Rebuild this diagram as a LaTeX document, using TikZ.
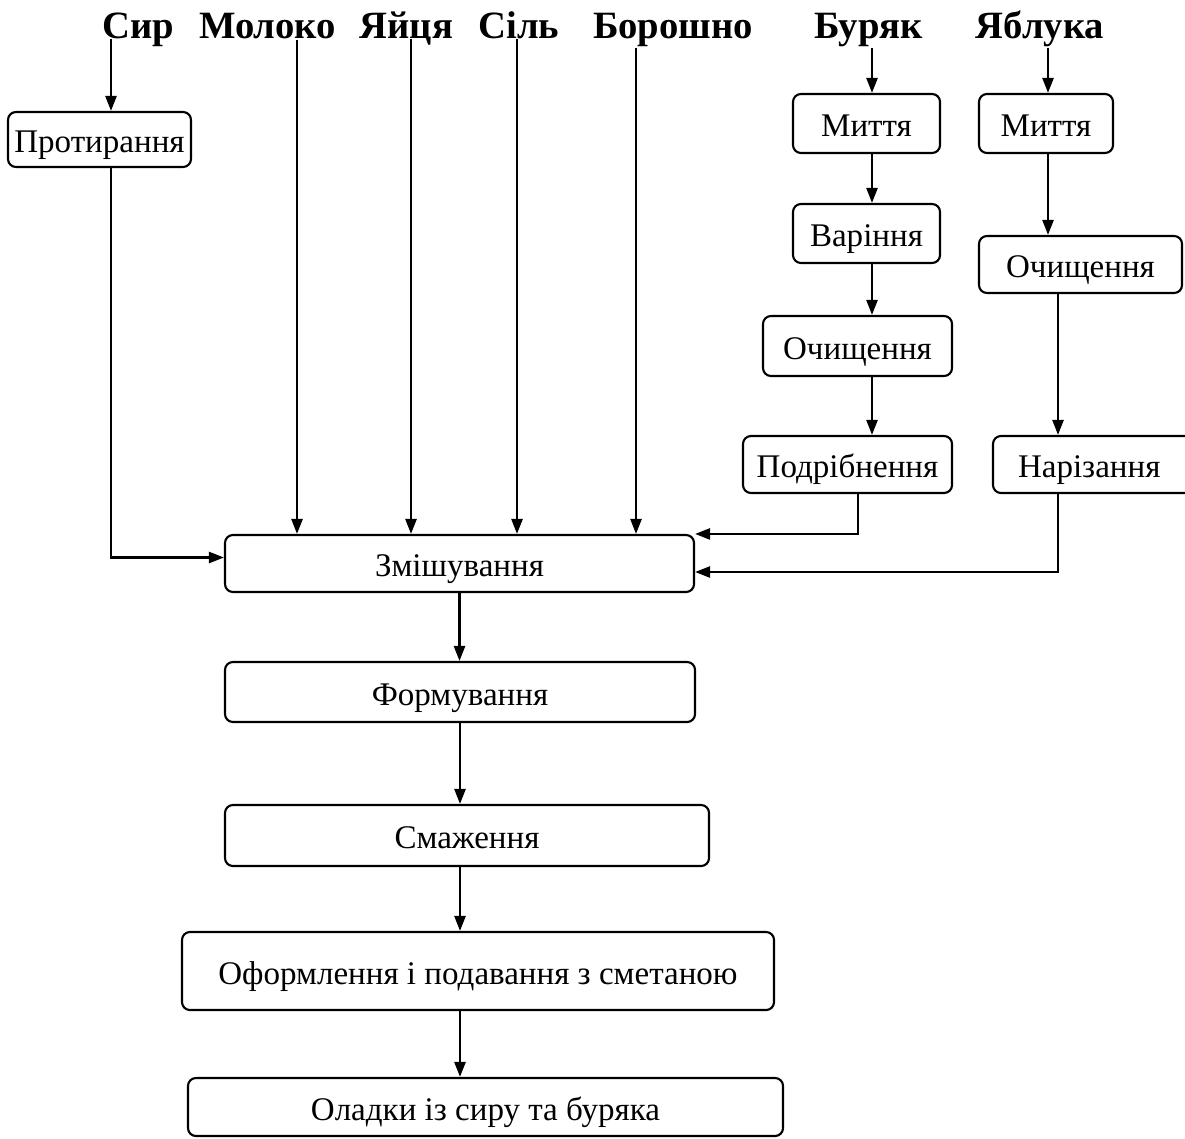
\documentclass[tikz,border=0pt]{standalone}
\usepackage{fontspec}
\setmainfont{Liberation Serif}
\usetikzlibrary{arrows.meta,positioning,calc}
\tikzset{%
stage/.style={draw, line width=1.2pt, rounded corners=4.5pt, inner sep=0pt, text height=15pt, text depth=0pt, font=\fontsize{18.8}{20}\selectfont},
dims/.style 2 args={minimum width=#1*0.02cm, minimum height=#2*0.02cm},
ingr/.style={inner sep=0pt, font=\fontsize{22}{24}\selectfont\bfseries},
pt/.style={line width=1.4pt, -{Triangle[length=0.3cm,width=0.22cm]}}
}
\begin{document}
\begin{tikzpicture}[x=0.02cm, y=-0.02cm]
			\useasboundingbox (0,0) rectangle (1185,1138);
			\node[ingr, anchor=base] (cheese) at (138.5,39) {Сир};
			\node[ingr, anchor=base] (milk) at (267.5,39) {Молоко};
			\node[ingr, anchor=base] (eggs) at (406.5,39) {Яйця};
			\node[ingr, anchor=base] (salt) at (519,39) {Сіль};
			\node[ingr, anchor=base] (flour) at (673,39) {Борошно};
			\node[ingr, anchor=base] (beet) at (868.5,39) {Буряк};
			\node[ingr, anchor=base] (apples) at (1040,39) {Яблука};
			\coordinate (c1) at (111,0);
			\coordinate (c2) at (297,0);
			\coordinate (c3) at (411,0);
			\coordinate (c4) at (517,0);
			\coordinate (c5) at (636,0);
			\coordinate (c6) at (872,0);
			\coordinate (c7) at (1048,0);
			\coordinate (c8) at (858,0);
			\coordinate (c9) at (1058,0);
			\node[stage, dims={183}{55}] (protyr) at (99.5,139.5) {Протирання};
			\node[stage, dims={147}{59}] (beet1) at (866.5,123.5) {Миття};
			\node[stage, dims={147}{59}] (beet2) at (866.5,233.5) {Варіння};
			\node[stage, dims={189}{60}] (beet3) at (857.5,346) {Очищення};
			\node[stage, dims={209}{57}] (beet4) at (847.5,464.5) {Подрібнення};
			\node[stage, dims={134}{59}] (apple1) at (1046,123.5) {Миття};
			\node[stage, dims={203}{57}] (apple2) at (1080.5,264.5) {Очищення};
			\node[stage, dims={217}{57}, inner xsep=0.5cm, text width=3.34cm, align=left] (cut) at (1101.5,464.5) {Нарізання};
			\node[stage, dims={469}{57}] (mix) at (459.5,563.5) {Змішування};
			\node[stage, dims={470}{60}] (form) at (460,692) {Формування};
			\node[stage, dims={484}{61}] (fry) at (467,835.5) {Смаження};
			\node[stage, dims={592}{78}] (serve) at (478,971) {Оформлення і подавання з сметаною};
			\node[stage, dims={595}{58}] (final) at (485.5,1107) {Оладки із сиру та буряка};
			\draw[pt] (cheese.base -| c1) -- (protyr.north -| c1);
			\draw[pt] (milk.south -| c2) -- (mix.north -| c2);
			\draw[pt] (eggs.base -| c3) -- (mix.north -| c3);
			\draw[pt] (salt.base -| c4) -- (mix.north -| c4);
			\draw[pt] (flour.south -| c5) -- (mix.north -| c5);
			\draw[pt] (beet.south -| c6) -- (beet1.north -| c6);
			\draw[pt] (beet1.south -| c6) -- (beet2.north -| c6);
			\draw[pt] (beet2.south -| c6) -- (beet3.north -| c6);
			\draw[pt] (beet3.south -| c6) -- (beet4.north -| c6);
			\draw[pt] (apples.south -| c7) -- (apple1.north -| c7);
			\draw[pt] (apple1.south -| c7) -- (apple2.north -| c7);
			\draw[pt] (apple2.south -| c9) -- (cut.north -| c9);
			\draw[pt] (protyr.south -| c1) |- ($(mix.west)+(0,-6)$);
			\draw[pt] (beet4.south -| c8) |- (mix.north east);
			\draw[pt] (cut.south -| c9) |- ($(mix.east)+(0,8.5)$);
			\draw[pt] (mix.south) -- (form.north -| mix.south);
			\draw[pt] (form.south) -- (fry.north -| form.south);
			\draw[pt] (fry.south -| form.south) -- (serve.north -| form.south);
			\draw[pt] (serve.south -| form.south) -- (final.north -| form.south);
		\end{tikzpicture}
\end{document}
